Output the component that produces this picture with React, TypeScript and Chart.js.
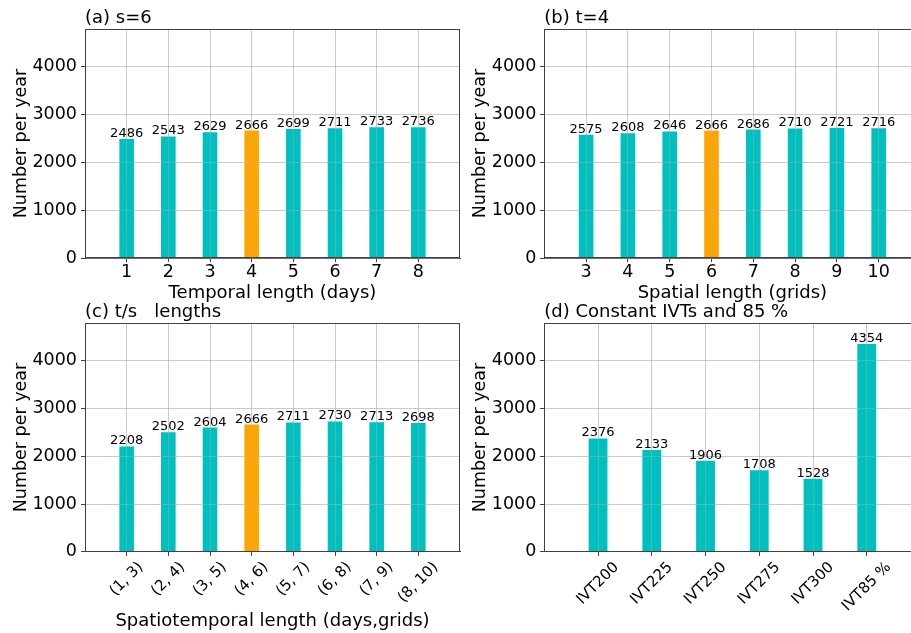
import React, { useEffect, useRef } from 'react';
import { Chart, registerables } from 'chart.js';

Chart.register(...registerables);

const FONT = '"DejaVu Sans", "Liberation Sans", sans-serif';
const TEAL = '#00BFBF';
const ORANGE = '#FFA500';
const AXIS = '#404040';
const GRID = 'rgba(176,176,176,0.42)';
const Y_MAX = 4789;
const Y_TICKS = [0, 1000, 2000, 3000, 4000];
const Y_TITLE = 'Number per year';

// ---- data ----
const temporalLabels = ['1', '2', '3', '4', '5', '6', '7', '8'];
const temporalValues = [2486, 2543, 2629, 2666, 2699, 2711, 2733, 2736];

const spatialLabels = ['3', '4', '5', '6', '7', '8', '9', '10'];
const spatialValues = [2575, 2608, 2646, 2666, 2686, 2710, 2721, 2716];

const stLabels = ['(1, 3)', '(2, 4)', '(3, 5)', '(4, 6)', '(5, 7)', '(6, 8)', '(7, 9)', '(8, 10)'];
const stValues = [2208, 2502, 2604, 2666, 2711, 2730, 2713, 2698];

const ivtLabels = ['IVT200', 'IVT225', 'IVT250', 'IVT275', 'IVT300', 'IVT85 %'];
const ivtValues = [2376, 2133, 1906, 1708, 1528, 4354];

const CW = 930;
const CH = 633;

type PanelCfg = {
  title: string;
  xTitle: string;
  labels: string[];
  values: number[];
  highlight: number;
  rotated: boolean;
  boxLeft: number;
  area: { left: number; top: number; right: number; bottom: number };
  xTitleCenter: number;
  xH: number;
};

const panels: PanelCfg[] = [
  {
    title: '(a) s=6',
    xTitle: 'Temporal length (days)',
    labels: temporalLabels,
    values: temporalValues,
    highlight: 3,
    rotated: false,
    boxLeft: 0,
    area: { left: 85, top: 29, right: 460, bottom: 258 },
    xTitleCenter: 293,
    xH: 0,
  },
  {
    title: '(b) t=4',
    xTitle: 'Spatial length (grids)',
    labels: spatialLabels,
    values: spatialValues,
    highlight: 3,
    rotated: false,
    boxLeft: 459,
    area: { left: 544.3, top: 29, right: 920.5, bottom: 258 },
    xTitleCenter: 293,
    xH: 0,
  },
  {
    title: '(c) t/s   lengths',
    xTitle: 'Spatiotemporal length (days,grids)',
    labels: stLabels,
    values: stValues,
    highlight: 3,
    rotated: true,
    boxLeft: 0,
    area: { left: 85, top: 323.3, right: 460, bottom: 551.7 },
    xTitleCenter: 621.7,
    xH: 0,
  },
  {
    title: '(d) Constant IVTs and 85 %',
    xTitle: '',
    labels: ivtLabels,
    values: ivtValues,
    highlight: -1,
    rotated: true,
    boxLeft: 459,
    area: { left: 544.3, top: 323.3, right: 920.5, bottom: 551.7 },
    xTitleCenter: 0,
    xH: 81,
  },
];

const X_TITLE_SIZE = 18;
const TICK_SIZE = 17.5;
const ROT_TICK_SIZE = 15;
const VALUE_SIZE = 13;

function makeChart(canvas: HTMLCanvasElement, p: PanelCfg) {
  const labels = ['', ...p.labels, ''];
  const data: (number | null)[] = [null, ...p.values, null];
  const colors = labels.map((_, i) => (i - 1 === p.highlight ? ORANGE : TEAL));
  const n = labels.length;
  const titlePadBottom = p.rotated ? 0 : 4;
  const xH = p.xTitle
    ? p.xTitleCenter - p.area.bottom + (X_TITLE_SIZE * 1.2) / 2 + titlePadBottom
    : p.xH;
  const yW = p.area.left - p.boxLeft;

  const overlay = {
    id: 'overlay',
    afterDatasetsDraw(chart: any) {
      const ctx = chart.ctx;
      // grid on top of bars
      chart.scales.x.drawGrid(chart.chartArea);
      chart.scales.y.drawGrid(chart.chartArea);
      // frame
      const a = chart.chartArea;
      ctx.save();
      ctx.strokeStyle = AXIS;
      ctx.lineWidth = 1;
      const l = Math.round(a.left) + 0.5;
      const t = Math.round(a.top) + 0.5;
      const r = Math.round(a.right) - 0.5;
      const b = Math.round(a.bottom) - 0.5;
      ctx.strokeRect(l, t, r - l, b - t);
      ctx.restore();
      // value labels
      const meta = chart.getDatasetMeta(0);
      const vals = chart.data.datasets[0].data;
      ctx.save();
      ctx.font = `${VALUE_SIZE}px ${FONT}`;
      ctx.fillStyle = '#000';
      ctx.textAlign = 'center';
      ctx.textBaseline = 'alphabetic';
      meta.data.forEach((el: any, i: number) => {
        const v = vals[i];
        if (v == null) return;
        ctx.fillText(String(v), el.x, el.y - 2);
      });
      ctx.restore();
    },
    afterDraw(chart: any) {
      const ctx = chart.ctx;
      const a = chart.chartArea;
      ctx.save();
      ctx.font = `18px ${FONT}`;
      ctx.fillStyle = '#000';
      ctx.textAlign = 'left';
      ctx.textBaseline = 'alphabetic';
      ctx.fillText(p.title, a.left, a.top - 6);
      ctx.restore();
      if (p.rotated) {
        const scale = chart.scales.x;
        const labs = chart.data.labels as string[];
        ctx.save();
        ctx.font = `${ROT_TICK_SIZE}px ${FONT}`;
        ctx.fillStyle = '#000';
        ctx.textAlign = 'center';
        ctx.textBaseline = 'middle';
        labs.forEach((lab, i) => {
          if (!lab) return;
          const x = scale.getPixelForTick(i);
          const w = ctx.measureText(lab).width;
          const half = ((w + ROT_TICK_SIZE * 1.17) * Math.SQRT1_2) / 2;
          const y = a.bottom + 7 + half;
          ctx.save();
          ctx.translate(x, y);
          ctx.rotate(-Math.PI / 4);
          ctx.fillText(lab, 0, 0);
          ctx.restore();
        });
        ctx.restore();
      }
    },
  };

  const edgeHidden = (c: string) => (ctx: any) =>
    ctx.index === 0 || ctx.index === n - 1 ? 'rgba(0,0,0,0)' : c;

  return new Chart(canvas, {
    type: 'bar',
    data: {
      labels,
      datasets: [
        {
          data,
          backgroundColor: colors,
          borderWidth: 0,
          barPercentage: 0.35,
          categoryPercentage: 1,
        } as any,
      ],
    },
    options: {
      animation: false,
      responsive: false,
      devicePixelRatio: 1,
      events: [],
      layout: {
        padding: {
          left: p.boxLeft,
          top: p.area.top,
          right: CW - p.area.right,
          bottom: CH - p.area.bottom - xH,
        },
      },
      plugins: {
        legend: { display: false },
        tooltip: { enabled: false },
        title: { display: false },
      },
      scales: {
        x: {
          type: 'category',
          offset: false,
          grid: {
            offset: false,
            color: edgeHidden(GRID),
            tickColor: edgeHidden(AXIS),
            tickLength: 4,
            lineWidth: 1,
          },
          border: { color: AXIS, width: 1 },
          ticks: {
            display: !p.rotated,
            autoSkip: false,
            maxRotation: 0,
            minRotation: 0,
            padding: 0,
            color: '#000',
            font: { size: TICK_SIZE, family: FONT },
          },
          title: {
            display: !!p.xTitle,
            text: p.xTitle,
            color: '#000',
            font: { size: X_TITLE_SIZE, family: FONT, lineHeight: 1.2 },
            padding: { top: 0, bottom: titlePadBottom },
          },
          afterFit: (s: any) => {
            s.height = xH;
          },
        } as any,
        y: {
          type: 'linear',
          min: 0,
          max: Y_MAX,
          grid: { color: GRID, tickColor: AXIS, tickLength: 4, lineWidth: 1 },
          border: { color: AXIS, width: 1 },
          ticks: {
            padding: 4,
            color: '#000',
            font: { size: TICK_SIZE, family: FONT },
            callback: (v: any) => String(v),
          },
          afterBuildTicks: (s: any) => {
            s.ticks = Y_TICKS.map((v) => ({ value: v }));
          },
          title: {
            display: true,
            text: Y_TITLE,
            color: '#000',
            font: { size: 17.5, family: FONT, lineHeight: 1.2 },
            padding: { top: 10.5, bottom: 0 },
          },
          afterFit: (s: any) => {
            s.width = yW;
          },
        } as any,
      },
    },
    plugins: [overlay],
  } as any);
}

export default function App() {
  const refs = [
    useRef<HTMLCanvasElement>(null),
    useRef<HTMLCanvasElement>(null),
    useRef<HTMLCanvasElement>(null),
    useRef<HTMLCanvasElement>(null),
  ];

  useEffect(() => {
    Chart.defaults.font.family = FONT;
    Chart.defaults.color = '#000';
    const charts = panels.map((p, i) => makeChart(refs[i].current as HTMLCanvasElement, p));
    return () => charts.forEach((c) => c.destroy());
  }, []);

  return (
    <div
      style={{
        position: 'absolute',
        left: 0,
        top: 0,
        width: 911,
        height: 633,
        overflow: 'hidden',
        background: '#fff',
      }}
    >
      {refs.map((r, i) => (
        <canvas
          key={i}
          ref={r}
          width={CW}
          height={CH}
          style={{ position: 'absolute', left: 0, top: 0, width: CW, height: CH }}
        />
      ))}
    </div>
  );
}
